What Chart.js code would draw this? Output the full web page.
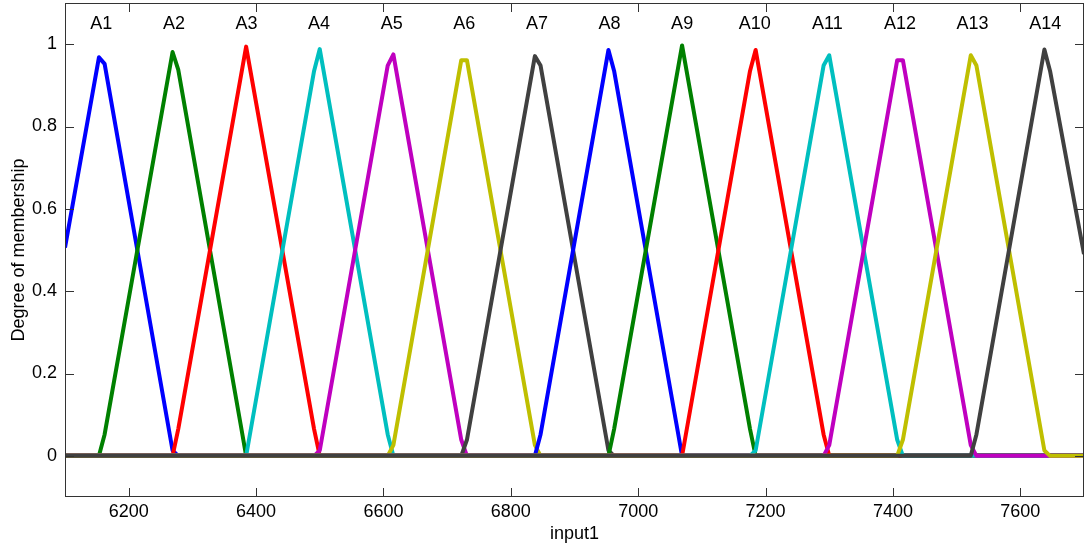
<!DOCTYPE html>
<html>
<head>
<meta charset="utf-8">
<title>Membership functions - input1</title>
<script src="https://cdn.jsdelivr.net/npm/chart.js@4.4.1/dist/chart.umd.min.js"></script>
<style>
    html, body { margin: 0; padding: 0; background: #ffffff; }
    #wrap { width: 1088px; height: 550px; }
</style>
</head>
<body>
<div id="wrap"><canvas id="mfChart" width="1088" height="550"></canvas></div>
<script>
// Axis ticks
const xTicks = [6200, 6400, 6600, 6800, 7000, 7200, 7400, 7600];
const yTicks = [0, 0.2, 0.4, 0.6, 0.8, 1];

// MF names and where their labels sit (peak of each triangle)
const mfNames = ['A1', 'A2', 'A3', 'A4', 'A5', 'A6', 'A7', 'A8', 'A9', 'A10', 'A11', 'A12', 'A13', 'A14'];
const mfCenters = [6157, 6271, 6385, 6499, 6613, 6727, 6841, 6955, 7069, 7183, 7297, 7411, 7525, 7639];

// MATLAB default line colours, cycled
const mfColors = ['#0000ff', '#008000', '#ff0000', '#00bfbf', '#bf00bf', '#bfbf00', '#404040'];

// Sampled membership curves (break points only)
const a1X = [6100, 6153.3, 6162.2, 6268.9, 6277.8, 7700];
const a1Y = [0.506, 0.968, 0.952, 0.013, 0, 0];
const a2X = [6100, 6153.3, 6162.2, 6268.9, 6277.8, 6375.6, 6384.4, 7700];
const a2Y = [0, 0, 0.052, 0.981, 0.938, 0.078, 0, 0];
const a3X = [6100, 6268.9, 6277.8, 6384.4, 6491.1, 6500.0, 7700];
const a3Y = [0, 0, 0.065, 0.994, 0.065, 0, 0];
const a4X = [6100, 6384.4, 6393.3, 6491.1, 6500.0, 6606.7, 6615.6, 7700];
const a4Y = [0, 0, 0.078, 0.935, 0.988, 0.052, 0, 0];
const a5X = [6100, 6491.1, 6500.0, 6606.7, 6615.6, 6722.2, 6731.1, 7700];
const a5Y = [0, 0, 0.013, 0.948, 0.975, 0.039, 0, 0];
const a6X = [6100, 6606.7, 6615.6, 6722.2, 6731.1, 6837.8, 6846.7, 7700];
const a6Y = [0, 0, 0.026, 0.961, 0.961, 0.026, 0, 0];
const a7X = [6100, 6722.2, 6731.1, 6837.8, 6846.7, 6953.3, 6962.2, 7700];
const a7Y = [0, 0, 0.039, 0.971, 0.948, 0.013, 0, 0];
const a8X = [6100, 6837.8, 6846.7, 6953.3, 6962.2, 7060.0, 7068.9, 7700];
const a8Y = [0, 0, 0.052, 0.986, 0.935, 0.078, 0, 0];
const a9X = [6100, 6953.3, 6962.2, 7068.9, 7175.6, 7184.4, 7700];
const a9Y = [0, 0, 0.065, 0.997, 0.065, 0, 0];
const a10X = [6100, 7068.9, 7077.8, 7175.6, 7184.4, 7291.1, 7300.0, 7700];
const a10Y = [0, 0, 0.078, 0.935, 0.986, 0.052, 0, 0];
const a11X = [6100, 7175.6, 7184.4, 7291.1, 7300.0, 7406.7, 7415.6, 7700];
const a11Y = [0, 0, 0.013, 0.948, 0.973, 0.039, 0, 0];
const a12X = [6100, 7291.1, 7300.0, 7406.7, 7415.6, 7522.2, 7531.1, 7700];
const a12Y = [0, 0, 0.026, 0.961, 0.961, 0.026, 0, 0];
const a13X = [6100, 7406.7, 7415.6, 7522.2, 7531.1, 7637.8, 7646.7, 7700];
const a13Y = [0, 0, 0.039, 0.973, 0.948, 0.013, 0, 0];
const a14X = [6100, 7522.2, 7531.1, 7637.8, 7646.7, 7700];
const a14Y = [0, 0, 0.052, 0.987, 0.935, 0.49];

const mfX = [a1X, a2X, a3X, a4X, a5X, a6X, a7X, a8X, a9X, a10X, a11X, a12X, a13X, a14X];
const mfY = [a1Y, a2Y, a3Y, a4Y, a5Y, a6Y, a7Y, a8Y, a9Y, a10Y, a11Y, a12Y, a13Y, a14Y];

const FONT = "'Liberation Sans', Arial, sans-serif";
const FONT_SIZE = 18;
const AXIS_COLOR = '#333333';

// Box around the axes with inward tick marks, plus the A1..A14 labels
const frameAndLabels = {
    id: 'frameAndLabels',
    afterDatasetsDraw(chart) {
        const { ctx, chartArea: area, scales } = chart;
        const tickLen = 9;
        ctx.save();
        ctx.strokeStyle = AXIS_COLOR;
        ctx.lineWidth = 1;
        ctx.strokeRect(area.left + 0.5, area.top + 0.5, area.right - area.left - 1, area.bottom - area.top - 1);

        ctx.beginPath();
        xTicks.forEach(v => {
            const px = Math.round(scales.x.getPixelForValue(v)) + 0.5;
            ctx.moveTo(px, area.bottom);
            ctx.lineTo(px, area.bottom - tickLen);
            ctx.moveTo(px, area.top);
            ctx.lineTo(px, area.top + tickLen);
        });
        yTicks.forEach(v => {
            const py = Math.round(scales.y.getPixelForValue(v)) + 0.5;
            ctx.moveTo(area.left, py);
            ctx.lineTo(area.left + tickLen, py);
            ctx.moveTo(area.right, py);
            ctx.lineTo(area.right - tickLen, py);
        });
        ctx.stroke();

        ctx.fillStyle = '#000000';
        ctx.font = FONT_SIZE + 'px ' + FONT;
        ctx.textAlign = 'center';
        ctx.textBaseline = 'middle';
        mfNames.forEach((name, i) => {
            ctx.fillText(name, scales.x.getPixelForValue(mfCenters[i]), scales.y.getPixelForValue(1.05));
        });
        ctx.restore();
    }
};

const datasets = mfNames.map((name, i) => ({
    label: name,
    data: mfX[i].map((x, j) => ({ x, y: mfY[i][j] })),
    borderColor: mfColors[i % mfColors.length],
    borderWidth: 4,
    borderJoinStyle: 'round',
    pointRadius: 0,
    tension: 0,
    fill: false,
    // later functions are painted on top, like MATLAB's plot order
    order: mfNames.length - i
}));

new Chart(document.getElementById('mfChart'), {
    type: 'line',
    data: { datasets },
    plugins: [frameAndLabels],
    options: {
        responsive: false,
        animation: false,
        layout: { padding: { top: 3, right: 4, left: 0, bottom: 0 } },
        plugins: {
            legend: { display: false },
            tooltip: { enabled: false }
        },
        scales: {
            x: {
                type: 'linear',
                min: 6100,
                max: 7700,
                afterBuildTicks: scale => { scale.ticks = xTicks.map(v => ({ value: v })); },
                afterFit: scale => {
                    scale.height = 53;
                    scale.paddingLeft = 0;
                    scale.paddingRight = 0;
                },
                grid: { display: false, drawTicks: false },
                border: { display: false },
                ticks: {
                    padding: 4,
                    maxRotation: 0,
                    color: '#000000',
                    font: { size: FONT_SIZE, family: FONT },
                    callback: v => String(v)
                },
                title: {
                    display: true,
                    text: 'input1',
                    color: '#000000',
                    font: { size: FONT_SIZE, family: FONT },
                    padding: { top: 0, bottom: 5 }
                }
            },
            y: {
                type: 'linear',
                min: -0.1,
                max: 1.1,
                afterBuildTicks: scale => { scale.ticks = yTicks.map(v => ({ value: v })); },
                afterFit: scale => {
                    scale.width = 65;
                    scale.paddingTop = 0;
                    scale.paddingBottom = 0;
                },
                grid: { display: false, drawTicks: false },
                border: { display: false },
                ticks: {
                    padding: 8,
                    color: '#000000',
                    font: { size: FONT_SIZE, family: FONT },
                    callback: v => String(v)
                },
                title: {
                    display: true,
                    text: 'Degree of membership',
                    color: '#000000',
                    font: { size: FONT_SIZE, family: FONT },
                    padding: { top: 8, bottom: 0 }
                }
            }
        }
    }
});
</script>
</body>
</html>
